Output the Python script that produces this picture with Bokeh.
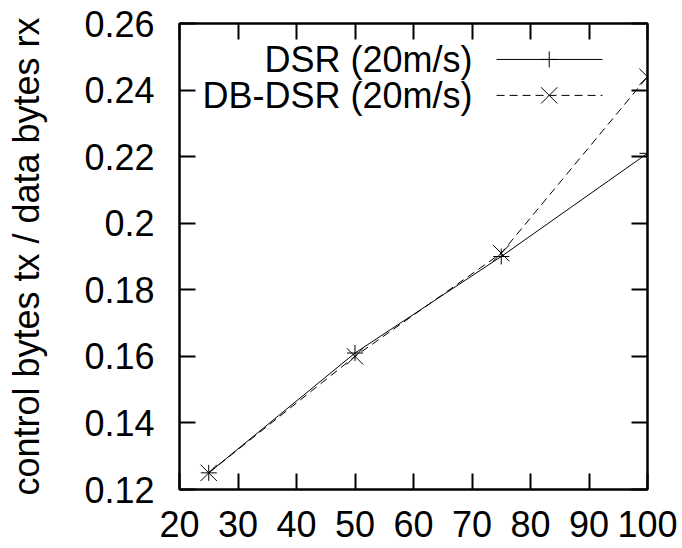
from bokeh.plotting import figure
from bokeh.models import Range1d, LinearAxis, FixedTicker
from bokeh.core.properties import value
from bokeh.embed import file_html
from bokeh.resources import INLINE

# data
speeds = [25, 50, 75, 100]
dsr = [0.125, 0.161, 0.190, 0.221]
dbdsr = [0.125, 0.160, 0.191, 0.244]
x_ticks = [20, 30, 40, 50, 60, 70, 80, 90, 100]
y_ticks = [0.12, 0.14, 0.16, 0.18, 0.20, 0.22, 0.24, 0.26]
y_tick_labels = ["0.12", "0.14", "0.16", "0.18", "0.2", "0.22", "0.24", "0.26"]
series_names = ["DSR (20m/s)", "DB-DSR (20m/s)"]

FONT = "Liberation Sans"
FS = "36px"

p = figure(width=682, height=548, output_backend="svg",
           toolbar_location=None, x_range=Range1d(20, 100), y_range=Range1d(0.12, 0.26),
           min_border_left=179, min_border_top=23, min_border_right=35, min_border_bottom=59)
p.xgrid.visible = False
p.ygrid.visible = False
p.outline_line_color = "black"
p.outline_line_width = 2
p.background_fill_color = "white"
p.border_fill_color = "white"

def style_axis(ax):
    ax.axis_line_color = "black"
    ax.axis_line_width = 2
    ax.major_tick_in = 16
    ax.major_tick_out = 0
    ax.major_tick_line_width = 2
    ax.major_tick_line_color = "black"
    ax.minor_tick_line_color = None
    ax.major_label_text_font = FONT
    ax.major_label_text_color = "black"
    ax.major_label_text_font_size = FS

xt = FixedTicker(ticks=x_ticks)
yt = FixedTicker(ticks=y_ticks)
ylabels = {t: s for t, s in zip(y_ticks, y_tick_labels)}

p.xaxis.ticker = xt
p.yaxis.ticker = yt
p.yaxis.major_label_overrides = ylabels
style_axis(p.xaxis[0])
style_axis(p.yaxis[0])
p.xaxis.major_label_standoff = 21
p.yaxis.major_label_standoff = 25
p.yaxis.axis_label = "control bytes tx / data bytes rx"
p.yaxis.axis_label_text_font = FONT
p.yaxis.axis_label_text_font_size = FS
p.yaxis.axis_label_text_font_style = "normal"
p.yaxis.axis_label_text_color = "black"
p.yaxis.axis_label_standoff = 34

# mirror ticks on top and right, without labels
top = LinearAxis(ticker=FixedTicker(ticks=x_ticks),
                 major_label_overrides={t: "" for t in x_ticks})
style_axis(top)
top.major_label_standoff = 0
p.add_layout(top, "above")
right = LinearAxis(ticker=FixedTicker(ticks=y_ticks),
                   major_label_overrides={t: "" for t in y_ticks})
style_axis(right)
right.major_label_standoff = 0
p.add_layout(right, "right")

MS_CROSS = 16
MS_X = 23
DASH = "8 5"

# data lines
p.line(speeds, dsr, line_color="black", line_width=1)
p.scatter(speeds, dsr, marker="cross", size=MS_CROSS, line_color="black", line_width=1)
p.line(speeds, dbdsr, line_color="black", line_width=1, line_dash=DASH)
p.scatter(speeds, dbdsr, marker="x", size=MS_X, line_color="black", line_width=1)

# legend (layout positions in data space)
leg_text_x = 70.1
leg_x0, leg_x1, leg_xm = 74.2, 92.3, 83.2
leg_y = [0.2492, 0.2384]
p.text(x=[leg_text_x, leg_text_x], y=leg_y, text=series_names, text_align="right",
       text_baseline="middle", text_font=value(FONT), text_font_size=FS, text_color="black")
p.line([leg_x0, leg_x1], [leg_y[0], leg_y[0]], line_color="black", line_width=1)
p.scatter([leg_xm], [leg_y[0]], marker="cross", size=MS_CROSS, line_color="black", line_width=1)
p.line([leg_x0, leg_x1], [leg_y[1], leg_y[1]], line_color="black", line_width=1, line_dash=DASH)
p.scatter([leg_xm], [leg_y[1]], marker="x", size=MS_X, line_color="black", line_width=1)

open("out.html", "w").write(file_html(p, INLINE))
